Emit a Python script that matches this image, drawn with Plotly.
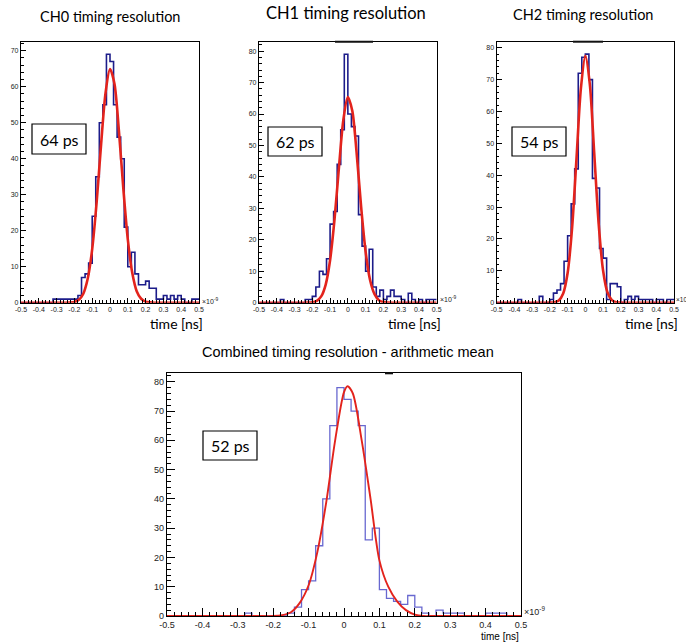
import plotly.graph_objects as go

# ---------------- data ----------------
bin_edges = [round(-0.5 + 0.02 * i, 2) for i in range(51)]

ch0_counts = [0, 0, 0, 0, 0, 0, 0, 0, 0, 1, 1, 1, 1, 1, 1,
              1, 2, 7, 8, 11, 24, 35, 50, 55, 69,
              67, 55, 46, 40, 21, 10, 14, 8, 5, 5,
              6, 4, 4, 1, 1, 2, 1, 2, 1, 2,
              1, 0, 0, 1, 1]
ch1_counts = [0, 0, 0, 0, 0, 0, 1, 0, 0, 0, 0, 0, 0,
              1, 1, 2, 5, 10, 9, 14, 25, 29, 44,
              55, 79, 60, 56, 53, 28, 18, 10, 17, 5,
              2, 4, 1, 2, 4, 2, 2, 1, 0, 3,
              1, 0, 1, 0, 1, 1, 1]
ch2_counts = [0, 0, 0, 0, 0, 0, 1, 0, 0, 0, 0, 0, 2,
              0, 0, 1, 3, 4, 6, 13, 21, 31, 42,
              72, 77, 78, 70, 39, 36, 17, 14, 1, 6,
              6, 5, 0, 1, 2, 1, 2, 1, 1, 1,
              1, 0, 1, 1, 0, 1, 1]
comb_counts = [0, 0, 0, 0, 0, 0, 0, 0, 0, 0, 0, 1, 0, 0, 0, 0, 0,
               1, 3, 9, 12, 24, 40, 65, 78, 74, 70,
               65, 26, 30, 9, 6, 5, 4, 7, 3, 1,
               0, 2, 1, 1, 1, 0, 0, 0, 1, 1,
               1, 0, 0]

fit_x = [-0.5, -0.25, -0.225, -0.2, -0.175, -0.15, -0.125, -0.1, -0.075, -0.05, -0.025,
         0.0, 0.025, 0.05, 0.075, 0.1, 0.125, 0.15, 0.175, 0.2, 0.225, 0.25, 0.5]
ch0_fit = [0, 0, 0.05, 0.2, 0.8, 2.5, 6.7, 14.9, 27.9, 44.0, 58.3,
           64.9, 60.8, 47.8, 31.6, 17.6, 8.3, 3.2, 1.1, 0.3, 0.08, 0, 0]
ch1_fit = [0, 0, 0.03, 0.14, 0.6, 2.0, 5.7, 13.5, 26.5, 43.1, 58.3,
           65.4, 61.0, 47.2, 30.3, 16.2, 7.2, 2.7, 0.8, 0.2, 0.05, 0, 0]
ch2_fit = [0, 0, 0, 0.02, 0.12, 0.67, 2.9, 9.3, 23.3, 45.2, 67.3,
           77.5, 68.7, 47.0, 24.8, 10.1, 3.2, 0.8, 0.14, 0.02, 0, 0, 0]
comb_fit_x = [-0.5, -0.25, -0.2, -0.175, -0.15, -0.125, -0.1, -0.075, -0.05, -0.025,
              0.0, 0.01, 0.025, 0.05, 0.075, 0.1, 0.125, 0.15, 0.175, 0.2, 0.225, 0.25, 0.5]
comb_fit = [0, 0, 0, 0.3, 1.3, 4.5, 10.5, 22, 39, 60,
            76.5, 78.5, 76, 60, 40, 19, 10, 5, 2, 0.5, 0, 0, 0]

x_tickvals = [-0.5, -0.4, -0.3, -0.2, -0.1, 0, 0.1, 0.2, 0.3, 0.4, 0.5]
x_ticktext = ["-0.5", "-0.4", "-0.3", "-0.2", "-0.1", "0", "0.1", "0.2", "0.3", "0.4", "0.5"]

titles = ["CH0 timing resolution", "CH1 timing resolution", "CH2 timing resolution",
          "Combined timing resolution - arithmetic mean"]
resolutions = ["64 ps", "62 ps", "54 ps", "52 ps"]
y_max = [72.5, 83, 81.9, 82.9]

# ---------------- layout helpers ----------------
W, H = 686, 644
def fx(p):
    return p / W
def fy(p):
    return 1 - p / H

panels = [
    # frame left, right, top, bottom in pixels
    dict(l=21, r=199, t=41.7, b=302.7),
    dict(l=259, r=436.7, t=41.7, b=302.7),
    dict(l=496.7, r=674, t=41.7, b=302.7),
    dict(l=167, r=521, t=373.3, b=616),
]
counts_all = [ch0_counts, ch1_counts, ch2_counts, comb_counts]
fits_all = [(fit_x, ch0_fit), (fit_x, ch1_fit), (fit_x, ch2_fit), (comb_fit_x, comb_fit)]

fig = go.Figure()
layout = dict(
    width=W, height=H, autosize=False,
    margin=dict(l=0, r=0, t=0, b=0),
    paper_bgcolor="white", plot_bgcolor="white",
    showlegend=False,
)

for k in range(4):
    p = panels[k]
    big = (k == 3)
    sfx = "" if k == 0 else str(k + 1)
    xa, ya = "x" + sfx, "y" + sfx
    hist_color = "#6868d0" if big else "#1c1c8a"
    hist_w = 1.3 if big else 1.6
    fit_w = 1.9 if big else 2.6
    counts = counts_all[k]
    fig.add_trace(go.Scatter(
        x=bin_edges, y=counts + [counts[-1]], mode="lines",
        line=dict(shape="hv", color=hist_color, width=hist_w),
        xaxis=xa, yaxis=ya, hoverinfo="skip"))
    fx_, fy_ = fits_all[k]
    fig.add_trace(go.Scatter(
        x=fx_, y=fy_, mode="lines",
        line=dict(shape="spline", smoothing=0.8, color="#e3231c", width=fit_w),
        xaxis=xa, yaxis=ya, hoverinfo="skip"))

    tick_font = dict(family="Liberation Sans, Arial", size=9 if big else 7, color="#222")
    layout["xaxis" + sfx] = dict(
        domain=[fx(p["l"]), fx(p["r"])], anchor=ya, range=[-0.5, 0.5],
        automargin=False,
        tickmode="array", tickvals=x_tickvals, ticktext=x_ticktext,
        ticks="inside", ticklen=8 if big else 5, tickcolor="black", tickwidth=1,
        minor=dict(ticks="inside", dtick=0.02, tick0=0, ticklen=4 if big else 2.5,
                   tickcolor="black", tickwidth=1),
        showgrid=False, zeroline=False, showline=True, mirror=True,
        linecolor="black", linewidth=1.3, tickfont=tick_font,
    )
    layout["yaxis" + sfx] = dict(
        domain=[fy(p["b"]), fy(p["t"])], anchor=xa, range=[0, y_max[k]],
        automargin=False,
        tickmode="linear", tick0=0, dtick=10,
        ticks="inside", ticklen=8 if big else 5, tickcolor="black", tickwidth=1,
        minor=dict(ticks="inside", dtick=2, tick0=0, ticklen=4 if big else 2.5,
                   tickcolor="black", tickwidth=1),
        showgrid=False, zeroline=False, showline=True, mirror=True,
        linecolor="black", linewidth=1.3, tickfont=tick_font,
    )

annotations = []
# panel titles
title_pos = [(110, 16, 14.5, "Lato"), (346, 13, 16.5, "Lato"), (583, 15, 14.5, "Lato"),
             (348, 352, 14.5, "Liberation Sans, Arial")]
for k in range(4):
    cx, cy, sz, fam = title_pos[k]
    annotations.append(dict(
        x=fx(cx), y=fy(cy), xref="paper", yref="paper", text=titles[k],
        showarrow=False, xanchor="center", yanchor="middle",
        font=dict(family=fam, size=sz, color="black")))

# resolution boxes
box_pos = [(32, 86, 124, 154), (268, 322, 127, 156), (512, 566, 127, 156), (203, 257, 431, 460)]
shapes = []
for k in range(4):
    l, r, t, b = box_pos[k]
    shapes.append(dict(type="rect", xref="paper", yref="paper",
                       x0=fx(l), x1=fx(r), y0=fy(b), y1=fy(t),
                       line=dict(color="black", width=1.2), fillcolor="white", layer="above"))
    annotations.append(dict(
        x=fx((l + r) / 2), y=fy((t + b) / 2), xref="paper", yref="paper",
        text=resolutions[k], showarrow=False, xanchor="center", yanchor="middle",
        font=dict(family="Lato", size=16, color="black")))

# darker segments on the top frame lines (as in the reference image)
for (x0, x1, yy) in [(335, 373, 41.7), (573, 603, 41.7), (385, 393, 373.3)]:
    shapes.append(dict(type="line", xref="paper", yref="paper",
                       x0=fx(x0), x1=fx(x1), y0=fy(yy), y1=fy(yy),
                       line=dict(color="#111", width=2), layer="above"))

# axis titles and exponent labels
axis_title_pos = [(205, 324, 14, "Lato"), (443, 323, 14, "Lato"), (680, 323, 14, "Lato"),
                  (521, 636, 10, "Liberation Sans, Arial")]
for k in range(4):
    rx, cy, sz, fam = axis_title_pos[k]
    annotations.append(dict(
        x=fx(rx), y=fy(cy), xref="paper", yref="paper", text="time [ns]",
        showarrow=False, xanchor="right", yanchor="middle",
        font=dict(family=fam, size=sz, color="black")))

exp_pos = [(200, 301, 7), (438, 299, 7), (674, 299, 6.5), (522, 611, 9)]
for (ex, ey, sz) in exp_pos:
    annotations.append(dict(
        x=fx(ex), y=fy(ey), xref="paper", yref="paper", text="×10<sup>-9</sup>",
        showarrow=False, xanchor="left", yanchor="middle",
        font=dict(family="Liberation Sans, Arial", size=sz, color="#222")))

layout["annotations"] = annotations
layout["shapes"] = shapes
fig.update_layout(**layout)

fig.write_html(
    "out.html",
    config={"displayModeBar": False},
    post_script="document.body.style.margin='0px';document.body.style.overflow='hidden';",
)
